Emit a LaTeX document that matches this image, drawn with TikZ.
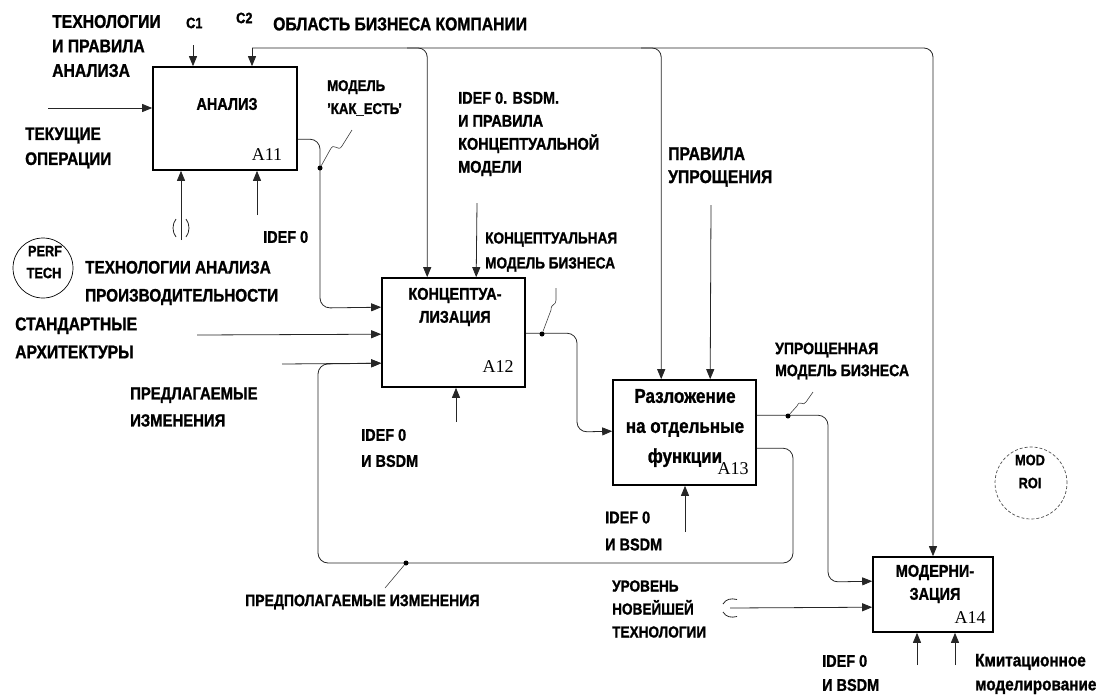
\documentclass[tikz,border=0pt]{standalone}
\usepackage{fontspec}
\setmainfont{Liberation Sans}[FakeStretch=0.85,BoldFeatures={FakeBold=1.2}]
\newfontfamily\numfont{Liberation Serif}
\usetikzlibrary{arrows.meta,calc}
\begin{document}
\begin{tikzpicture}[x=1pt,y=-1pt,
  box/.style={draw,line width=1.6pt,inner sep=0},
  lab/.style={font=\bfseries\fontsize{18}{24}\selectfont,align=left,inner sep=0,anchor=west},
  ttl/.style={font=\bfseries\fontsize{17}{23}\selectfont,align=center,inner sep=0},
  num/.style={font=\numfont\fontsize{18}{18}\selectfont,inner sep=0},
  conn/.style={line width=0.8pt,black!85},
  arr/.style={conn,-{Triangle[length=10pt,width=8pt]}},
  dot/.style={circle,fill,inner sep=0,minimum size=5pt},
  leader/.style={line width=0.6pt,black!75}]
\useasboundingbox (0,0) rectangle (1101,697);

% boxes
\node[box,minimum width=144pt,minimum height=103pt] (A11) at (225,118.5) {};
\node[box,minimum width=143pt,minimum height=109pt] (A12) at (453.5,332.5) {};
\node[box,minimum width=143pt,minimum height=105pt] (A13) at (684.5,432.5) {};
\node[box,minimum width=120pt,minimum height=75pt] (A14) at (933,594.5) {};

% titles and numbers
\node[ttl] (t11) at (227,104) {АНАЛИЗ};
\node[ttl] (t12) at (455,307) {КОНЦЕПТУА-\\ЛИЗАЦИЯ};
\node[ttl,font=\bfseries\fontsize{20}{30}\selectfont] (t13) at (685,428) {Разложение\\на отдельные\\функции};
\node[ttl] (t14) at (935,584) {МОДЕРНИ-\\ЗАЦИЯ};
\node[num] (n11) at (267,155) {A11};
\node[num] (n12) at (498,367) {A12};
\node[num] (n13) at (733,469) {A13};
\node[num] (n14) at (970,618) {A14};

% free labels
\node[lab,font=\bfseries\fontsize{18.5}{24.5}\selectfont] (l1) at (52,46) {ТЕХНОЛОГИИ\\И ПРАВИЛА\\АНАЛИЗА};
\node[lab,font=\bfseries\fontsize{15}{15}\selectfont] (lc1) at (186,23) {C1};
\node[lab,font=\bfseries\fontsize{15}{15}\selectfont] (lc2) at (236,18) {C2};
\node[lab,font=\bfseries\fontsize{18.5}{24}\selectfont] (l2) at (273,24) {ОБЛАСТЬ БИЗНЕСА КОМПАНИИ};
\node[lab,font=\bfseries\fontsize{18}{25}\selectfont] (l3) at (25,148) {ТЕКУЩИЕ\\ОПЕРАЦИИ};
\node[lab,font=\bfseries\fontsize{15.5}{23}\selectfont] (l4) at (327,98) {МОДЕЛЬ\\'КАК\_ЕСТЬ'};
\node[lab,font=\bfseries\fontsize{17}{23}\selectfont] (l5) at (458,134) {IDEF 0. BSDM.\\И ПРАВИЛА\\КОНЦЕПТУАЛЬНОЙ\\МОДЕЛИ};
\node[lab,font=\bfseries\fontsize{18.5}{23}\selectfont] (l6) at (668,167) {ПРАВИЛА\\УПРОЩЕНИЯ};
\node[lab,font=\bfseries\fontsize{17}{24}\selectfont] (l7) at (263,237) {IDEF 0};
\node[lab,font=\bfseries\fontsize{18}{28}\selectfont] (l8) at (85,283) {ТЕХНОЛОГИИ АНАЛИЗА\\ПРОИЗВОДИТЕЛЬНОСТИ};
\node[lab,font=\bfseries\fontsize{18.5}{28}\selectfont] (l9) at (15,338) {СТАНДАРТНЫЕ\\АРХИТЕКТУРЫ};
\node[lab,font=\bfseries\fontsize{17.5}{27}\selectfont] (l10) at (130,407) {ПРЕДЛАГАЕМЫЕ\\ИЗМЕНЕНИЯ};
\node[lab,font=\bfseries\fontsize{16}{25}\selectfont] (l11) at (485,252) {КОНЦЕПТУАЛЬНАЯ\\МОДЕЛЬ БИЗНЕСА};
\node[lab,font=\bfseries\fontsize{17}{26}\selectfont] (l12) at (361,448) {IDEF 0\\И BSDM};
\node[lab,font=\bfseries\fontsize{16.5}{22}\selectfont] (l13) at (775,361) {УПРОЩЕННАЯ\\МОДЕЛЬ БИЗНЕСА};
\node[lab,font=\bfseries\fontsize{17}{27}\selectfont] (l14) at (605,531) {IDEF 0\\И BSDM};
\node[lab,font=\bfseries\fontsize{16.5}{24}\selectfont] (l15) at (245,602) {ПРЕДПОЛАГАЕМЫЕ ИЗМЕНЕНИЯ};
\node[lab,font=\bfseries\fontsize{16}{23}\selectfont] (l16) at (612,609) {УРОВЕНЬ\\НОВЕЙШЕЙ\\ТЕХНОЛОГИИ};
\node[lab,font=\bfseries\fontsize{17}{24}\selectfont] (l17) at (822,673) {IDEF 0\\И BSDM};
\node[lab,font=\bfseries\fontsize{18}{24}\selectfont] (l18) at (975,674) {Кмитационное\\моделирование};

% circles
\node[circle,draw,line width=0.7pt,minimum size=60pt,inner sep=0] (perf) at (43,268) {};
\node[inner sep=0,font=\bfseries\fontsize{15}{15}\selectfont] (perf1) at (45,251) {PERF};
\node[inner sep=0,font=\bfseries\fontsize{15}{15}\selectfont] (perf2) at (44,273) {TECH};
\node[circle,draw,line width=0.7pt,densely dashed,black!70,minimum size=72pt,inner sep=0] (mod) at (1031,483) {};
\node[inner sep=0,font=\bfseries\fontsize{15}{15}\selectfont] (mod1) at (1030,460) {MOD};
\node[inner sep=0,font=\bfseries\fontsize{15}{15}\selectfont] (mod2) at (1030,483) {ROI};

% anchor coordinates
\coordinate (c1) at (193,45);
\coordinate (c2) at (252,48);
\coordinate (A12c1) at ($(A12.north west)+(46,0)$);
\coordinate (A12c2) at ($(A12.north west)+(95,0)$);
\coordinate (A13c1) at ($(A13.north west)+(49,0)$);
\coordinate (A13c2) at ($(A13.north west)+(98,0)$);
\coordinate (A11o) at ($(A11.north east)+(0,73)$);
\coordinate (A12i1) at ($(A12.north west)+(0,30)$);
\coordinate (A12i2) at ($(A12.north west)+(0,57)$);
\coordinate (A12i3) at ($(A12.north west)+(0,86)$);
\coordinate (A12o) at ($(A12.north east)+(0,56)$);
\coordinate (A13i) at ($(A13.north west)+(0,52)$);
\coordinate (A13o1) at ($(A13.north east)+(0,36)$);
\coordinate (A13o2) at ($(A13.north east)+(0,69)$);
\coordinate (A14i1) at ($(A14.north west)+(0,25)$);
\coordinate (A14i2) at ($(A14.north west)+(0,51)$);

% controls
\draw[arr] (c1) -- (c1 |- A11.north);
\draw[arr] (c2) -- (c2 |- A11.north);
\draw[arr,rounded corners=9] (c2) -| (A14.north);
\draw[arr,rounded corners=9] ($(A12c1 |- c2)+(-20,0)$) -| (A12c1);
\draw[arr,rounded corners=9] ($(A13c1 |- c2)+(-20,0)$) -| (A13c1);
\coordinate (s12) at (477,203);
\coordinate (s13) at (711,205);
\draw[arr] (s12) -- (A12c2);
\draw[arr] (s13) -- (A13c2);

% inputs
\coordinate (in11) at (48,108);
\draw[arr] (in11) -- (in11 -| A11.west);
\coordinate (in12b) at (197,335);
\draw[arr] (in12b) -- (A12i2);
\coordinate (in12c) at (282,364);
\draw[arr] (in12c) -- (A12i3);
\coordinate (in14b) at (730,608);
\draw[arr] (in14b) -- (A14i2);
\draw[conn] (723,604) .. controls (726,599) and (731,598) .. (737,599.5);
\draw[conn] (723,612) .. controls (726,617) and (731,618) .. (737,616.5);

% outputs and internal arrows
\coordinate (m1) at (320,308);
\draw[arr,rounded corners=10] (A11o) -| (m1) -- (A12i1);
\coordinate (m2) at (577,432);
\draw[arr,rounded corners=10] (A12o) -| (m2) -- (A13i);
\coordinate (m3) at (828,582);
\draw[arr,rounded corners=10] (A13o1) -| (m3) -- (A14i1);
\coordinate (fbR) at (793,563);
\coordinate (fbL) at (318,364);
\draw[arr,rounded corners=10] (A13o2) -| (fbR) -| (fbL) -- (A12i3);

% mechanisms
\coordinate (mk1) at (181,240);
\coordinate (mk2) at (257,215);
\coordinate (mk3) at (456,422);
\coordinate (mk4) at (685,532);
\coordinate (mk5) at (917,665);
\coordinate (mk6) at (955,665);
\draw[arr] (mk1) -- (mk1 |- A11.south);
\draw[arr] (mk2) -- (mk2 |- A11.south);
\draw[arr] (mk3) -- (mk3 |- A12.south);
\draw[arr] (mk4) -- (mk4 |- A13.south);
\draw[arr] (mk5) -- (mk5 |- A14.south);
\draw[arr] (mk6) -- (mk6 |- A14.south);
\draw[conn] (176,219) .. controls (172,224) and (172,232) .. (176,237);
\draw[conn] (186,219) .. controls (190,224) and (190,232) .. (186,237);

% dots and leaders
\node[dot] (d1) at (320,168) {};
\node[dot] (d2) at (542,334) {};
\node[dot] (d3) at (788,416) {};
\node[dot] (d4) at (406,563) {};
\draw[leader] (352,130) -- (342,146) .. controls (338,153) and (334,141) .. (330,150) -- (d1);
\draw[leader] (556,288) -- (556,300) .. controls (556,306) and (551,303) .. (551,310) -- (d2);
\draw[leader] (813,392) -- (806,402) .. controls (803,407) and (800,399) .. (797,406) -- (d3);
\draw[leader] (385,588) -- (d4);
\end{tikzpicture}
\end{document}
